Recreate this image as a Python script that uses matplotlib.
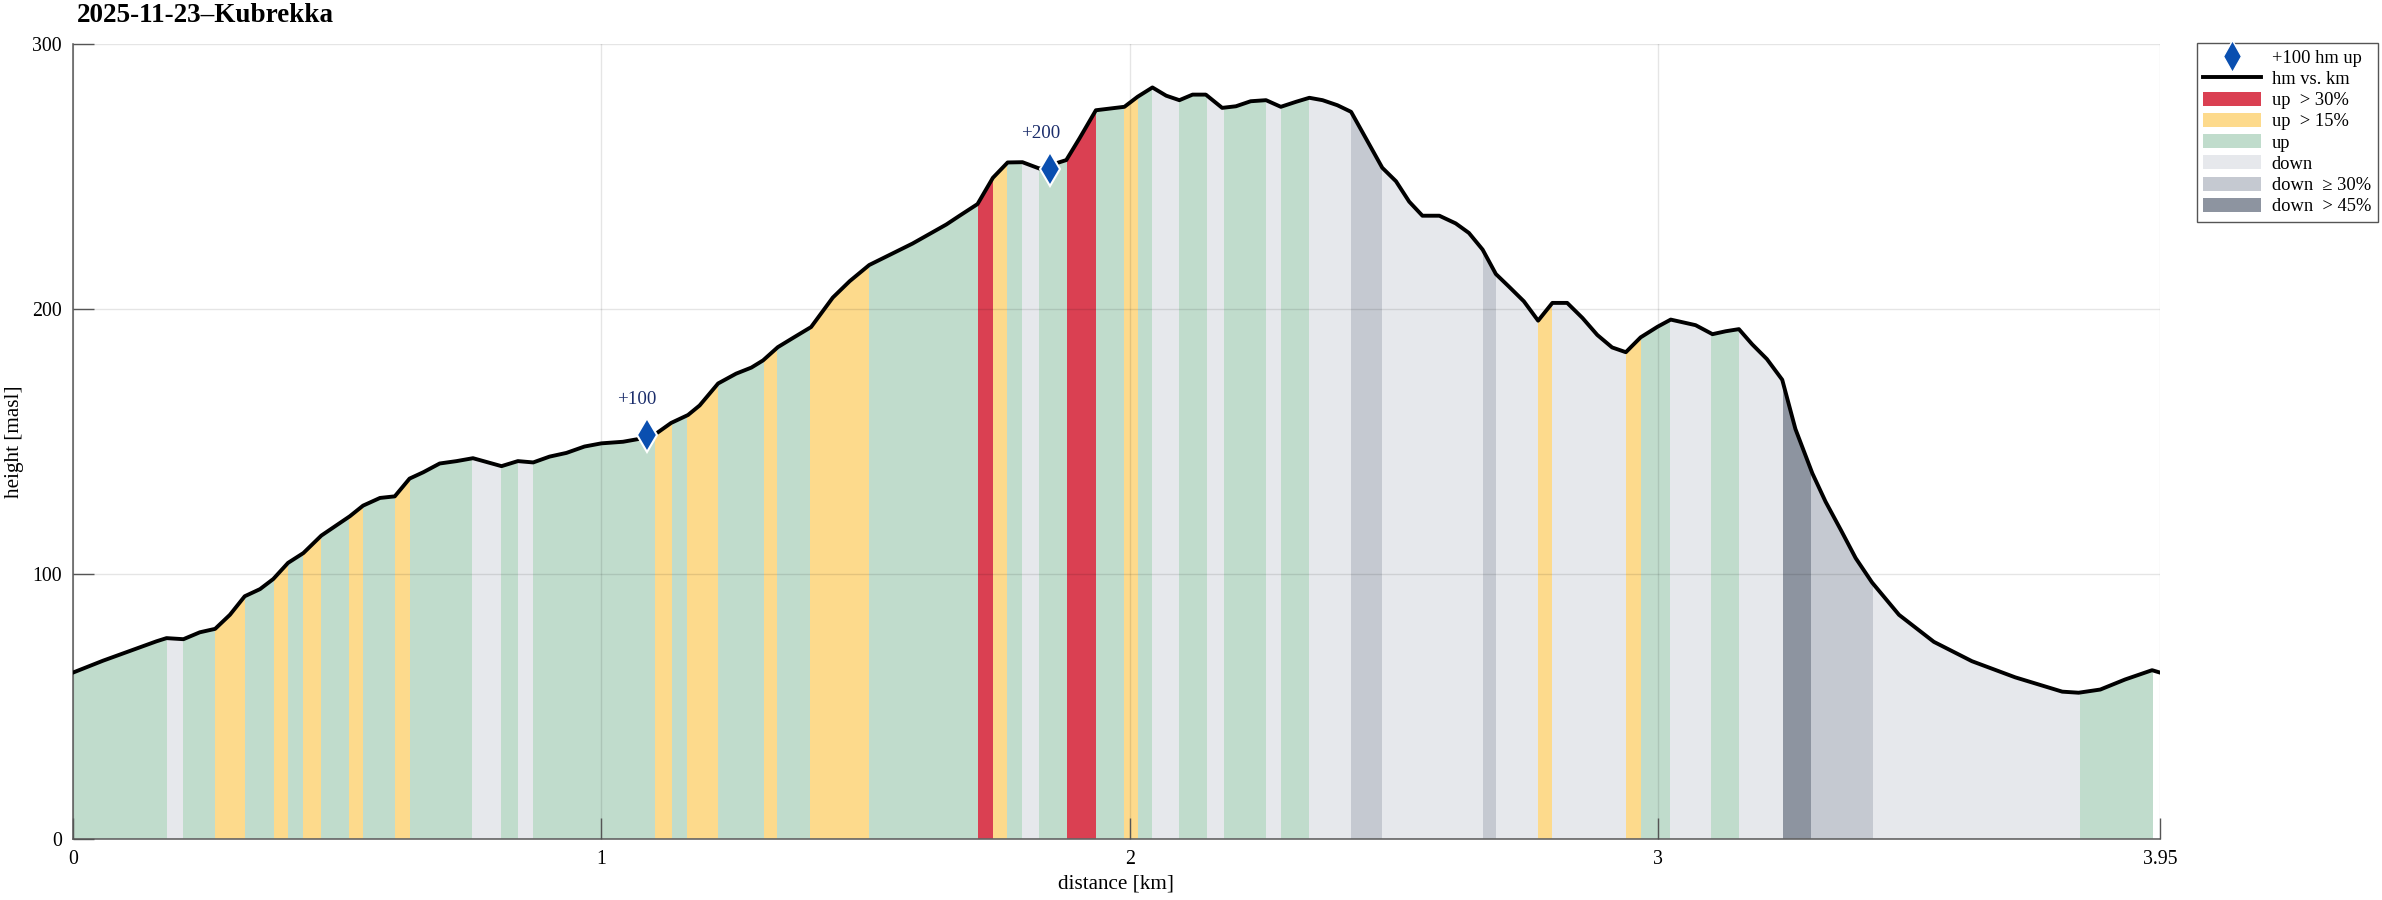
import numpy as np
import matplotlib
matplotlib.use('Agg')
import matplotlib.pyplot as plt
from matplotlib.patches import Patch
from matplotlib.lines import Line2D

plt.rcParams['font.family'] = ['Liberation Serif', 'DejaVu Serif']

title = "2025-11-23\u2013Kubrekka"

# elevation profile (km, m)
dist_km = [0.000, 0.057, 0.158, 0.177, 0.209, 0.240, 0.269, 0.297, 0.325, 0.354,
           0.379, 0.407, 0.436, 0.470, 0.524, 0.549, 0.581, 0.609, 0.637, 0.663,
           0.694, 0.726, 0.757, 0.811, 0.842, 0.871, 0.902, 0.934, 0.968, 1.000,
           1.041, 1.072, 1.101, 1.132, 1.164, 1.186, 1.221, 1.255, 1.284, 1.306,
           1.334, 1.362, 1.397, 1.438, 1.470, 1.507, 1.589, 1.653, 1.678, 1.712,
           1.741, 1.769, 1.797, 1.829, 1.880, 1.905, 1.936, 1.990, 2.015, 2.043,
           2.069, 2.094, 2.119, 2.144, 2.175, 2.201, 2.229, 2.258, 2.286, 2.315,
           2.340, 2.365, 2.393, 2.419, 2.447, 2.478, 2.504, 2.529, 2.554, 2.586,
           2.617, 2.642, 2.668, 2.693, 2.718, 2.746, 2.773, 2.800, 2.828, 2.857,
           2.885, 2.913, 2.939, 2.967, 2.999, 3.024, 3.071, 3.103, 3.128, 3.153,
           3.178, 3.206, 3.235, 3.260, 3.292, 3.317, 3.346, 3.374, 3.405, 3.456,
           3.522, 3.594, 3.676, 3.765, 3.796, 3.837, 3.884, 3.935, 3.950]
height_m = [62.8, 67.3, 74.6, 75.8, 75.4, 78.0, 79.3, 84.6, 91.6, 94.3,
            98.1, 104.2, 107.9, 114.5, 121.8, 125.8, 128.7, 129.3, 136.0, 138.4,
            141.7, 142.6, 143.7, 140.7, 142.6, 142.1, 144.3, 145.7, 148.1, 149.3,
            149.9, 151.0, 152.6, 157.0, 160.0, 163.6, 171.9, 175.6, 177.9, 180.6,
            185.6, 189.0, 193.2, 204.3, 210.5, 216.6, 224.7, 231.9, 235.2, 239.6,
            249.5, 255.3, 255.4, 253.0, 256.2, 264.4, 275.0, 276.3, 280.1, 283.6,
            280.5, 278.8, 280.9, 280.9, 275.9, 276.5, 278.4, 278.8, 276.3, 278.2,
            279.7, 278.8, 276.9, 274.4, 264.4, 253.3, 248.2, 240.5, 235.2, 235.2,
            232.3, 228.7, 222.4, 213.2, 208.4, 202.9, 195.6, 202.3, 202.3, 196.6,
            190.2, 185.5, 183.7, 189.3, 193.3, 196.0, 193.9, 190.5, 191.6, 192.4,
            186.7, 181.1, 173.3, 154.7, 138.0, 127.3, 116.6, 106.0, 96.8, 84.6,
            74.4, 67.1, 61.0, 55.6, 55.2, 56.4, 60.2, 63.7, 62.8]

# gradient segments: boundaries (km) and class of each interval
seg_bounds = [0.000, 0.177, 0.209, 0.269, 0.325, 0.380, 0.407, 0.436, 0.470, 0.523,
              0.549, 0.609, 0.638, 0.756, 0.811, 0.842, 0.871, 1.101, 1.134, 1.163,
              1.220, 1.307, 1.332, 1.395, 1.507, 1.712, 1.741, 1.768, 1.796, 1.829,
              1.881, 1.936, 1.990, 2.015, 2.042, 2.093, 2.147, 2.178, 2.258, 2.286,
              2.340, 2.419, 2.478, 2.668, 2.694, 2.773, 2.800, 2.939, 2.967, 3.022,
              3.101, 3.153, 3.236, 3.290, 3.407, 3.798, 3.936]
seg_class = ['U', 'D', 'U', 'Y', 'U', 'Y', 'U', 'Y', 'U', 'Y',
             'U', 'Y', 'U', 'D', 'U', 'D', 'U', 'Y', 'U', 'Y',
             'U', 'Y', 'U', 'Y', 'U', 'R', 'Y', 'U', 'D', 'U',
             'R', 'U', 'Y', 'U', 'D', 'U', 'D', 'U', 'D', 'U',
             'D', 'M', 'D', 'M', 'D', 'Y', 'D', 'Y', 'U', 'D',
             'U', 'D', 'K', 'M', 'D', 'U']

# +100 hm markers
marker_km = [1.086, 1.849]
marker_h = [152.6, 253.0]
marker_labels = ['+100', '+200']

class_order = ['R', 'Y', 'U', 'D', 'M', 'K']
class_colors = {'R': '#da4052', 'Y': '#fdda8c', 'U': '#c0dccc',
                'D': '#e6e8ec', 'M': '#c5c9d1', 'K': '#8d94a0'}
class_labels = {'R': 'up  > 30%', 'Y': 'up  > 15%', 'U': 'up',
                'D': 'down', 'M': 'down  \u2265 30%', 'K': 'down  > 45%'}

W, H = 2382, 900
fig = plt.figure(figsize=(W / 100, H / 100), dpi=100)
ax_l, ax_r, ax_t, ax_b = 73, 2160, 44, 839
ax = fig.add_axes([ax_l / W, 1 - ax_b / H, (ax_r - ax_l) / W, (ax_b - ax_t) / H])

fill = ax.fill_between(dist_km, height_m, 0, facecolor='none', edgecolor='none')
clip_path = fill.get_paths()[0]

for x0, x1, c in zip(seg_bounds[:-1], seg_bounds[1:], seg_class):
    span = ax.axvspan(x0, x1, facecolor=class_colors[c], edgecolor='none', lw=0, zorder=1)
    span.set_clip_path(clip_path, ax.transData)

ax.plot(dist_km, height_m, color='black', lw=2.8, zorder=4, solid_joinstyle='round')
ax.plot(marker_km, marker_h, linestyle='none', marker='d', ms=17,
        mfc='#0a4fb0', mec='white', mew=1.5, zorder=5)
for xk, yh, lab in zip(marker_km, marker_h, marker_labels):
    ax.annotate(lab, (xk, yh), xytext=(-7, 25), textcoords='offset points',
                ha='center', va='center', fontsize=13.6, color='#1b2d6b', zorder=6)

ax.set_xlim(0, 3.95)
ax.set_ylim(0, 300)
ax.set_xticks([0, 1, 2, 3, 3.95])
ax.set_xticklabels(['0', '1', '2', '3', '3.95'])
ax.set_yticks([0, 100, 200, 300])
ax.grid(True, color='black', alpha=0.1, lw=1)
ax.set_axisbelow(False)
ax.tick_params(direction='in', length=15, width=1, color='#555555', labelsize=14.3,
               pad=8)
for s in ['top', 'right']:
    ax.spines[s].set_visible(False)
for s in ['left', 'bottom']:
    ax.spines[s].set_color('#666666')
    ax.spines[s].set_linewidth(1.2)

ax.set_xlabel('distance [km]', fontsize=15.2, labelpad=4)
ax.set_ylabel('height [masl]', fontsize=15.2, labelpad=6)

fig.text(77 / W, 1 - 16 / H, title, fontweight='bold', fontsize=19.5,
         ha='left', va='center')

handles = [Line2D([], [], linestyle='none', marker='d', ms=16, mfc='#0a4fb0',
                  mec='white', mew=1.0),
           Line2D([], [], color='black', lw=2.8)]
labels = ['+100 hm up', 'hm vs. km']
for c in class_order:
    handles.append(Patch(facecolor=class_colors[c], edgecolor='none'))
    labels.append(class_labels[c])
leg = fig.legend(handles, labels, loc='upper left',
                 bbox_to_anchor=(2197 / W, 1 - 43 / H), fontsize=13.3,
                 frameon=True, fancybox=False, framealpha=1, edgecolor='#555555',
                 borderpad=0.35, labelspacing=0.2, handlelength=3.1,
                 handleheight=0.8, handletextpad=0.6, borderaxespad=0)
leg.get_frame().set_linewidth(1.0)

fig.savefig('out.png', dpi=100)
